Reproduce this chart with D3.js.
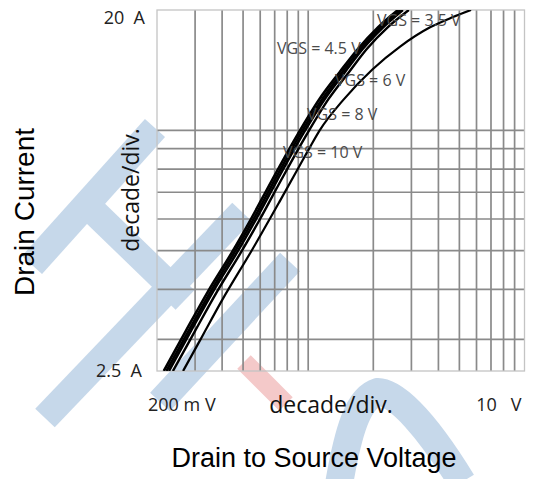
<!DOCTYPE html>
<html>
<head>
<meta charset="utf-8">
<script src="https://cdn.jsdelivr.net/npm/d3@7"></script>
<style>
body { margin: 0; background: #fff; }
text { white-space: pre; }
</style>
</head>
<body>
<div id="chart"></div>
<script>
// axes: drain-source voltage (V) on x, drain current (A) on y, both log
var xDomain = [0.2, 10];
var yDomain = [2.5, 20];
var xGrid = [0.3, 0.4, 0.5, 0.6, 0.7, 0.8, 0.9, 1, 2, 3, 4, 5, 6, 7, 8, 9];
var yGrid = [3, 4, 5, 6, 7, 8, 9, 10];
var xTickLabels = ["200 m V", "10   V"];
var yTickLabels = ["2.5  A", "20  A"];

var seriesNames = ["VGS = 10 V", "VGS = 8 V", "VGS = 6 V", "VGS = 4.5 V", "VGS = 3.5 V"];
// drain current readings shared by the four upper curves
var idUpper = [2.5, 3.15, 3.95, 5, 6, 7.5, 9.8, 12, 14, 16, 18.1, 20];
var vds10 = [0.215, 0.272, 0.344, 0.449, 0.544, 0.680, 0.897, 1.13, 1.40, 1.70, 2.10, 2.60];
var vds8 = [0.221, 0.280, 0.354, 0.461, 0.559, 0.699, 0.921, 1.165, 1.44, 1.745, 2.16, 2.67];
var vds6 = [0.227, 0.287, 0.363, 0.474, 0.574, 0.718, 0.946, 1.195, 1.48, 1.79, 2.22, 2.74];
var vds45 = [0.237, 0.300, 0.379, 0.494, 0.599, 0.749, 0.988, 1.245, 1.545, 1.87, 2.33, 2.92];
var id35 = [2.5, 3, 3.76, 5.02, 6.7, 8, 9, 10, 11.9, 14.2, 16.2, 18.1, 19.2, 20];
var vds35 = [0.264, 0.318, 0.400, 0.550, 0.745, 0.895, 1.01, 1.13, 1.45, 1.98, 2.66, 3.66, 4.67, 5.66];
// where each curve label sits (V, A)
var labelV = [0.764, 0.988, 1.33, 0.718, 2.08];
var labelI = [8.53, 10.6, 12.9, 15.5, 18.2];

var W = 541, H = 479;
var svg = d3.select("#chart").append("svg")
  .attr("width", W)
  .attr("height", H);

var x = d3.scaleLog().domain(xDomain).range([157, 524.5]);
var y = d3.scaleLog().domain(yDomain).range([371, 10]);

// logo watermark behind the chart
var wm = svg.append("g").attr("fill", "none").attr("stroke-linecap", "butt");
var bands = [
  [[32, 265], [155, 128]],
  [[90, 208], [185, 300]],
  [[45, 418], [242, 212]],
  [[160, 402], [290, 262]]
];
bands.forEach(function (b) {
  wm.append("path")
    .attr("d", d3.line()(b))
    .attr("stroke", "#c6d8ea")
    .attr("stroke-width", 27);
});
wm.append("path")
  .attr("d", "M338,490 C348,430 358,398 378,392 C398,392 430,430 462,482")
  .attr("stroke", "#c6d8ea")
  .attr("stroke-width", 28);
wm.append("path")
  .attr("d", d3.line()([[244, 362], [286, 404]]))
  .attr("stroke", "#f4c9c9")
  .attr("stroke-width", 19);

// grid
var grid = svg.append("g");
grid.selectAll(".vg")
  .data(xGrid)
  .enter()
  .append("line")
  .attr("x1", function (d) { return x(d); })
  .attr("x2", function (d) { return x(d); })
  .attr("y1", y(yDomain[0]))
  .attr("y2", y(yDomain[1]))
  .style("stroke", "#8a8a8a")
  .style("stroke-width", "1.7px");
grid.selectAll(".hg")
  .data(yGrid)
  .enter()
  .append("line")
  .attr("y1", function (d) { return y(d); })
  .attr("y2", function (d) { return y(d); })
  .attr("x1", x(xDomain[0]))
  .attr("x2", x(xDomain[1]))
  .style("stroke", "#8a8a8a")
  .style("stroke-width", "1.7px");
grid.append("rect")
  .attr("x", x(xDomain[0]))
  .attr("y", y(yDomain[1]))
  .attr("width", x(xDomain[1]) - x(xDomain[0]))
  .attr("height", y(yDomain[0]) - y(yDomain[1]))
  .attr("fill", "none")
  .style("stroke", "#c4c4c4")
  .style("stroke-width", "1.3px");

// curves
var series = [
  { name: seriesNames[0], v: vds10, i: idUpper, w: 2.6 },
  { name: seriesNames[1], v: vds8, i: idUpper, w: 2.6 },
  { name: seriesNames[2], v: vds6, i: idUpper, w: 2.6 },
  { name: seriesNames[3], v: vds45, i: idUpper, w: 2.4 },
  { name: seriesNames[4], v: vds35, i: id35, w: 2.2 }
];
var line = d3.line()
  .x(function (d) { return x(d[0]); })
  .y(function (d) { return y(d[1]); })
  .curve(d3.curveMonotoneX);

svg.append("defs").append("clipPath").attr("id", "clip")
  .append("rect")
  .attr("x", x(xDomain[0]))
  .attr("y", y(yDomain[1]))
  .attr("width", x(xDomain[1]) - x(xDomain[0]))
  .attr("height", y(yDomain[0]) - y(yDomain[1]));

svg.append("g").attr("clip-path", "url(#clip)")
  .selectAll("path")
  .data(series)
  .enter()
  .append("path")
  .attr("d", function (s) { return line(s.v.map(function (v, k) { return [v, s.i[k]]; })); })
  .attr("fill", "none")
  .attr("stroke", "#000")
  .attr("stroke-width", function (s) { return s.w; });

// curve labels
svg.selectAll(".lbl")
  .data(seriesNames)
  .enter()
  .append("text")
  .attr("x", function (d, k) { return x(labelV[k]); })
  .attr("y", function (d, k) { return y(labelI[k]); })
  .style("font-family", "'Open Sans', sans-serif")
  .style("font-size", "16px")
  .attr("fill", "#4a4a4a")
  .text(function (d) { return d; });

// tick labels
var tickFont = "'Open Sans', sans-serif";
svg.append("text")
  .attr("x", 145).attr("y", y(yDomain[1]) + 14)
  .attr("text-anchor", "end")
  .style("font-family", tickFont).style("font-size", "18px")
  .attr("fill", "#222")
  .text(yTickLabels[1]);
svg.append("text")
  .attr("x", 142).attr("y", y(yDomain[0]) + 6)
  .attr("text-anchor", "end")
  .style("font-family", tickFont).style("font-size", "18px")
  .attr("fill", "#222")
  .text(yTickLabels[0]);
svg.append("text")
  .attr("x", x(xDomain[0]) - 9).attr("y", 411)
  .style("font-family", tickFont).style("font-size", "18px")
  .attr("fill", "#222")
  .text(xTickLabels[0]);
svg.append("text")
  .attr("x", x(xDomain[1]) - 3).attr("y", 411)
  .attr("text-anchor", "end")
  .style("font-family", tickFont).style("font-size", "18px")
  .attr("fill", "#222")
  .text(xTickLabels[1]);

// decade/div. notes
svg.append("text")
  .attr("x", 331).attr("y", 413)
  .attr("text-anchor", "middle")
  .style("font-family", tickFont).style("font-size", "23px")
  .attr("fill", "#111")
  .text("decade/div.");
svg.append("text")
  .attr("transform", "translate(139,190) rotate(-90)")
  .attr("text-anchor", "middle")
  .style("font-family", tickFont).style("font-size", "23px")
  .attr("fill", "#111")
  .text("decade/div.");

// axis titles
svg.append("text")
  .attr("x", 314).attr("y", 467)
  .attr("text-anchor", "middle")
  .style("font-family", "'Liberation Sans', Arial, sans-serif")
  .style("font-size", "27px")
  .attr("fill", "#000")
  .text("Drain to Source Voltage");
svg.append("text")
  .attr("transform", "translate(34,212) rotate(-90)")
  .attr("text-anchor", "middle")
  .style("font-family", "'Liberation Sans', Arial, sans-serif")
  .style("font-size", "28px")
  .attr("fill", "#000")
  .text("Drain Current");
</script>
</body>
</html>
